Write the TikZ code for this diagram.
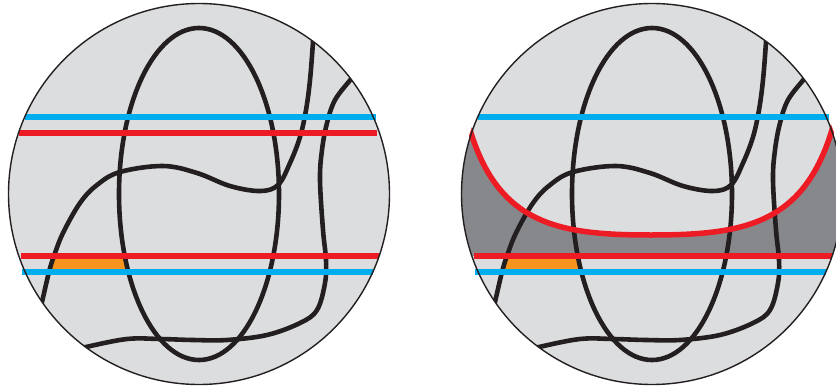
\documentclass[tikz,border=0pt]{standalone}
\definecolor{discgray}{HTML}{DCDDDF}
\definecolor{darkfill}{HTML}{87888C}
\definecolor{ink}{HTML}{231F20}
\definecolor{redc}{HTML}{ED1C24}
\definecolor{bluec}{HTML}{00AEEF}
\definecolor{orangec}{HTML}{F7941D}
\tikzset{
  curve/.style={draw=ink, line width=4.6pt},
  blueline/.style={draw=bluec, line width=5.5pt},
  redline/.style={draw=redc, line width=5.5pt},
  rim/.style={draw=ink, line width=1.4pt},
}
\newcommand\discfill{%
  \fill[discgray] (199,194) circle (190.5);
  \fill[orangec] (54,256) -- (125,256) -- (128.5,272) -- (49,272) -- cycle;
}
\newcommand\disccurves{%
  \begin{scope}
    \clip (199,194) circle (190.5);
    \draw[curve] (199,194) ellipse (80 and 166);
    \draw[curve] plot[smooth, tension=0.6] coordinates {(40,310) (42,302) (49,272) (54,256) (63,233) (80,203) (97,185) (120,172) (163,166) (197,173) (230,186) (260,191) (278,185) (290,163) (300,137) (306,110) (310,80) (313,42) (313.5,30)};
    \draw[curve] plot[smooth, tension=0.6] coordinates {(357,71) (351,79) (335,100) (327,123) (322,150) (320,180) (323,230) (326,260) (325,283) (317,310) (300,323) (267,335) (227,340) (193,340) (160,339) (127,339) (86,347) (76,350)};
  \end{scope}
}
\newcommand\disclines{%
  \draw[blueline] (25,117) -- (376,117);
  \draw[redline] (21,256) -- (379,256);
  \draw[blueline] (22,272) -- (373,272);
}
\newcommand\discrim{\draw[rim] (199,194) circle (190.5);}
\begin{document}
\begin{tikzpicture}[x=1pt,y=-1pt]
\useasboundingbox (0,0) rectangle (836,388);
\clip (0,0) rectangle (836,388);
% left disc
\discfill
\disccurves
\disclines
\draw[redline] (19,133) -- (377,133);
\discrim
% right disc
\begin{scope}[shift={(453,0)}]
  \discfill
  \begin{scope}
    \clip (199,194) circle (190.5);
    \fill[darkfill] (18,133) .. controls (47,225) and (107,235) .. (198,235)
      .. controls (289,235) and (349,225) .. (378,133)
      -- (400,133) -- (400,256) -- (0,256) -- (0,133) -- cycle;
  \end{scope}
  \disccurves
  \disclines
  \begin{scope}
    \clip (199,194) circle (192);
    \draw[redline] (15,123) -- (18,133) .. controls (47,225) and (107,235) .. (198,235)
      .. controls (289,235) and (349,225) .. (378,133) -- (381,123);
  \end{scope}
  \discrim
\end{scope}
\end{tikzpicture}
\end{document}
